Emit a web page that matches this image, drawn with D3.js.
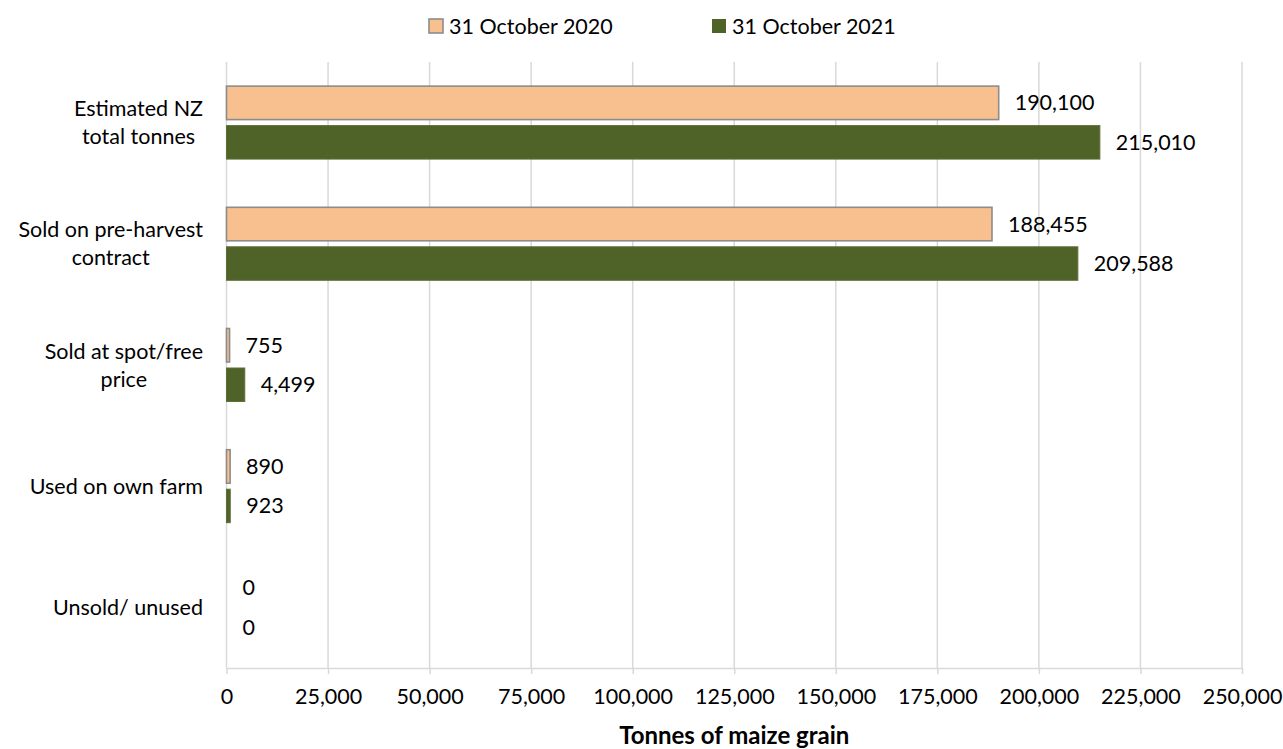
<!DOCTYPE html>
<html>
<head>
<meta charset="utf-8">
<script src="https://cdn.jsdelivr.net/npm/d3@7"></script>
<style>
  html, body { margin: 0; padding: 0; background: #fff; }
  svg { display: block; font-family: Lato, "Open Sans", sans-serif; }
</style>
</head>
<body>
<svg id="chart" width="1283" height="749"></svg>
<script>
// Maize grain disposition, tonnes
const categories = [
  ["Estimated NZ", "total tonnes"],
  ["Sold on pre-harvest", "contract"],
  ["Sold at spot/free", "price"],
  ["Used on own farm"],
  ["Unsold/ unused"]
];
const seriesNames = ["31 October 2020", "31 October 2021"];
const values2020 = [190100, 188455, 755, 890, 0];
const values2021 = [215010, 209588, 4499, 923, 0];
const xTicks = [0, 25000, 50000, 75000, 100000, 125000, 150000, 175000, 200000, 225000, 250000];
const axisTitle = "Tonnes of maize grain";

const fills = ["#F9C08F", "#4F6228"];
const strokes = ["#8C8C8C", "#5E7036"];
const gridColor = "#D9D9D9";
const fontSize = 21.5;

const svg = d3.select("#chart");
const margin = { left: 226.5, right: 1283 - 1242, top: 62, bottom: 749 - 668 };
const W = 1283, H = 749;

const x = d3.scaleLinear().domain([0, 250000]).range([margin.left, W - margin.right]);
const y = d3.scaleBand()
  .domain(d3.range(categories.length))
  .range([margin.top, H - margin.bottom])
  .paddingInner(0.398).paddingOuter(0.199);
const ySub = d3.scaleBand()
  .domain([0, 1])
  .range([0, y.bandwidth()])
  .paddingInner(0.152);

const fmt = d3.format(",");

// vertical gridlines
svg.append("g")
  .selectAll("line")
  .data(xTicks)
  .join("line")
  .attr("x1", d => x(d)).attr("x2", d => x(d))
  .attr("y1", margin.top).attr("y2", H - margin.bottom)
  .attr("stroke", gridColor).attr("stroke-width", 1.5);

// bottom axis
const xAxis = d3.axisBottom(x)
  .tickValues(xTicks)
  .tickFormat(fmt)
  .tickSizeInner(6).tickSizeOuter(0).tickPadding(15);
const gx = svg.append("g")
  .attr("transform", `translate(0,${H - margin.bottom})`)
  .call(xAxis);
gx.select(".domain").attr("stroke", gridColor).attr("stroke-width", 1.5);
gx.selectAll(".tick line").attr("stroke", gridColor).attr("stroke-width", 1.5);
gx.selectAll(".tick text")
  .attr("fill", "#000").attr("font-size", fontSize).attr("font-family", "Lato, sans-serif");

// bars
const series = [values2020, values2021];
series.forEach((vals, s) => {
  const g = svg.append("g");
  g.selectAll("rect")
    .data(vals)
    .join("rect")
    .attr("x", x(0))
    .attr("y", (d, i) => y(i) + ySub(s))
    .attr("width", d => x(d) - x(0))
    .attr("height", ySub.bandwidth())
    .attr("fill", fills[s])
    .attr("stroke", d => d > 0 ? strokes[s] : "none")
    .attr("stroke-width", s === 0 ? 1.6 : 1);

  g.selectAll("text")
    .data(vals)
    .join("text")
    .attr("x", d => x(d) + 16)
    .attr("y", (d, i) => y(i) + ySub(s) + ySub.bandwidth() / 2)
    .attr("dy", "0.35em")
    .attr("font-size", fontSize)
    .attr("fill", "#000")
    .text(d => fmt(d));
});

// category labels: lines centred on each other, block right-aligned
const labelRight = 203;
const lineH = 28;
const cg = svg.append("g");
categories.forEach((lines, i) => {
  const t = cg.append("text")
    .attr("font-size", fontSize)
    .attr("fill", "#000")
    .attr("text-anchor", "middle");
  const cy = y(i) + y.bandwidth() / 2;
  lines.forEach((ln, k) => {
    t.append("tspan")
      .attr("y", cy + (k - (lines.length - 1) / 2) * lineH)
      .attr("dy", "0.35em")
      .text(ln);
  });
  // widest line sets the block width
  let maxW = 0;
  t.selectAll("tspan").each(function () { maxW = Math.max(maxW, this.getComputedTextLength()); });
  t.selectAll("tspan").attr("x", labelRight - maxW / 2);
});

// axis title
svg.append("text")
  .attr("x", (x(0) + x(250000)) / 2)
  .attr("y", 744)
  .attr("text-anchor", "middle")
  .attr("font-size", 24)
  .attr("font-weight", "bold")
  .text(axisTitle);

// legend
const legendX = [429, 712];
const lg = svg.append("g");
seriesNames.forEach((name, s) => {
  lg.append("rect")
    .attr("x", legendX[s]).attr("y", 19)
    .attr("width", 14).attr("height", 14)
    .attr("fill", fills[s])
    .attr("stroke", s === 0 ? strokes[0] : "none")
    .attr("stroke-width", 1.6);
  lg.append("text")
    .attr("x", legendX[s] + 20).attr("y", 26)
    .attr("dy", "0.35em")
    .attr("font-size", fontSize)
    .text(name);
});
</script>
</body>
</html>
